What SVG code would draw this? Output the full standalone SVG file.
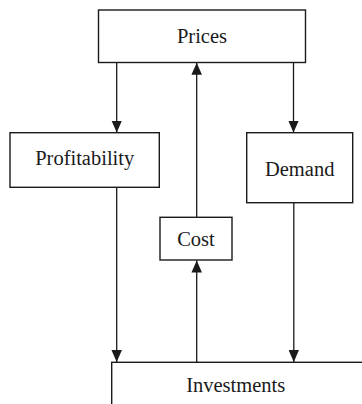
<svg xmlns="http://www.w3.org/2000/svg" width="362" height="404" viewBox="0 0 362 404">
<style>
.box{fill:#fff;stroke:#1a1a1a;stroke-width:1.4}
.lbl{font-family:"Liberation Serif","Times New Roman",serif;font-size:20.5px;fill:#1a1a1a;text-anchor:middle}
.edge{stroke:#1a1a1a;stroke-width:1.3;fill:none;marker-end:url(#ah)}
</style>
<defs>
<marker id="ah" markerUnits="userSpaceOnUse" markerWidth="12" markerHeight="10.5" refX="12" refY="5.25" orient="auto" viewBox="0 0 12 10.5">
<path d="M0,0 L12,5.25 L0,10.5 Z" fill="#1a1a1a"/>
</marker>
</defs>
<rect width="362" height="404" fill="#fff"/>
<g id="connectors">
<line class="edge" x1="116.7" y1="62.5" x2="116.7" y2="132.5"/>
<line class="edge" x1="293.5" y1="62.5" x2="293.5" y2="132.5"/>
<line class="edge" x1="196.7" y1="217.5" x2="196.7" y2="62.8"/>
<line class="edge" x1="196.7" y1="362" x2="196.7" y2="260.5"/>
<line class="edge" x1="116.7" y1="187.5" x2="116.7" y2="362"/>
<line class="edge" x1="293.8" y1="202.5" x2="293.8" y2="362"/>
</g>
<g id="prices">
<rect class="box" x="98.5" y="10" width="207" height="52.5"/>
<text class="lbl" x="202" y="42.7">Prices</text>
</g>
<g id="profitability">
<rect class="box" x="10" y="132.7" width="149.3" height="54.6"/>
<text class="lbl" x="84.7" y="165">Profitability</text>
</g>
<g id="demand">
<rect class="box" x="246.7" y="132.7" width="106" height="70"/>
<text class="lbl" x="299.7" y="176">Demand</text>
</g>
<g id="cost">
<rect class="box" x="160" y="217.3" width="72" height="42.7"/>
<text class="lbl" x="196" y="246">Cost</text>
</g>
<g id="investments">
<rect class="box" x="111.7" y="362.3" width="270" height="60"/>
<text class="lbl" x="235.7" y="392.3">Investments</text>
</g>
</svg>
